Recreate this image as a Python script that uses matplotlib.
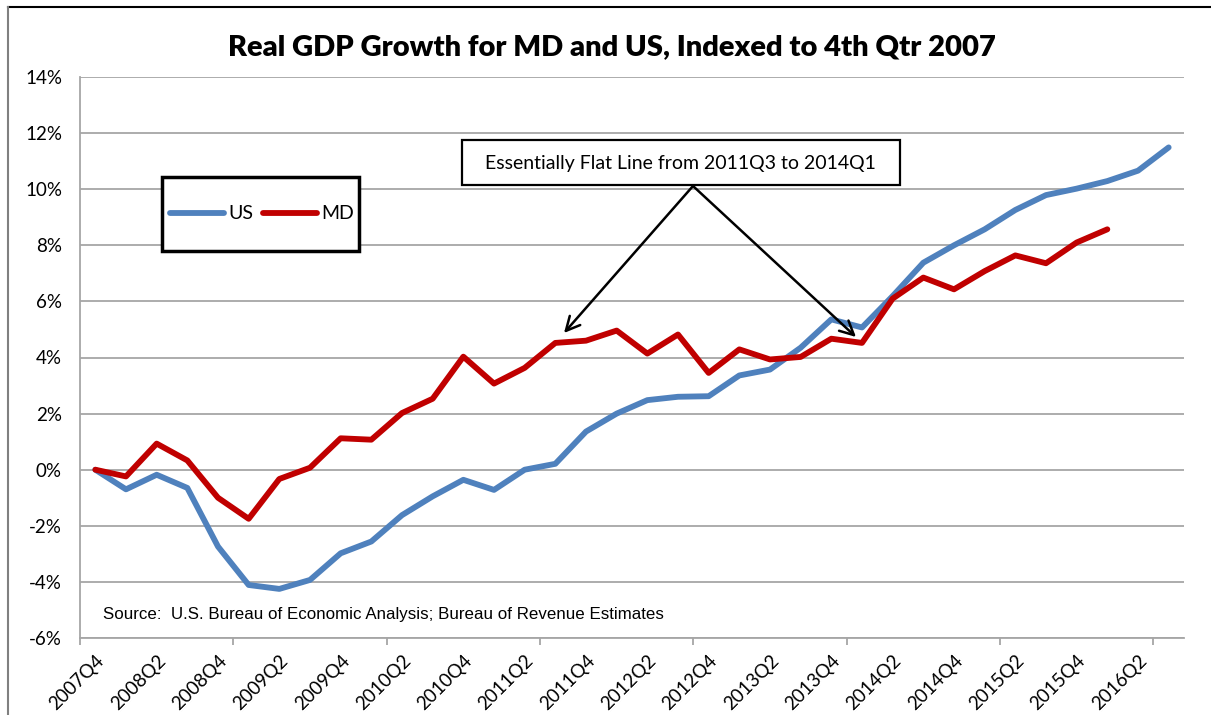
import matplotlib
matplotlib.use("Agg")
import matplotlib.pyplot as plt
from matplotlib.lines import Line2D
from matplotlib.patches import Rectangle

quarters = ["2007Q4",
            "2008Q1", "2008Q2", "2008Q3", "2008Q4",
            "2009Q1", "2009Q2", "2009Q3", "2009Q4",
            "2010Q1", "2010Q2", "2010Q3", "2010Q4",
            "2011Q1", "2011Q2", "2011Q3", "2011Q4",
            "2012Q1", "2012Q2", "2012Q3", "2012Q4",
            "2013Q1", "2013Q2", "2013Q3", "2013Q4",
            "2014Q1", "2014Q2", "2014Q3", "2014Q4",
            "2015Q1", "2015Q2", "2015Q3", "2015Q4",
            "2016Q1", "2016Q2", "2016Q3"]

us = [0.0, -0.70, -0.18, -0.65, -2.74, -4.11, -4.25, -3.93, -2.98, -2.56,
      -1.62, -0.95, -0.36, -0.72, 0.0, 0.21, 1.36, 2.0, 2.48, 2.60,
      2.62, 3.36, 3.57, 4.35, 5.36, 5.07, 6.19, 7.38, 8.0, 8.57,
      9.26, 9.79, 10.02, 10.29, 10.66, 11.49]

md = [0.0, -0.24, 0.93, 0.33, -1.0, -1.75, -0.33, 0.07, 1.12, 1.07,
      2.02, 2.53, 4.03, 3.07, 3.63, 4.52, 4.6, 4.96, 4.14, 4.82,
      3.45, 4.29, 3.93, 4.02, 4.67, 4.52, 6.1, 6.85, 6.43, 7.08,
      7.64, 7.36, 8.1, 8.57]

yticks = [-6, -4, -2, 0, 2, 4, 6, 8, 10, 12, 14]
title = "Real GDP Growth for MD and US, Indexed to 4th Qtr 2007"
note = "Essentially Flat Line from 2011Q3 to 2014Q1"
source = "Source:  U.S. Bureau of Economic Analysis; Bureau of Revenue Estimates"

BLUE = "#4F81BD"
RED = "#C00000"
GRID = "#A6A6A6"
CAL = ["Lato", "DejaVu Sans"]

W, H = 1211, 715
fig = plt.figure(figsize=(W / 100, H / 100), dpi=100)
fig.patch.set_facecolor("white")

def fx(px):
    return px / W

def fy(py):
    return 1 - py / H

ax = fig.add_axes([fx(80), fy(638), fx(1184) - fx(80), fy(77) - fy(638)])

x_us = list(range(len(us)))
x_md = list(range(len(md)))
ax.plot(x_us, us, color=BLUE, lw=4.2, solid_capstyle="round", solid_joinstyle="round", label="US", zorder=3)
ax.plot(x_md, md, color=RED, lw=4.2, solid_capstyle="round", solid_joinstyle="round", label="MD", zorder=3)

ax.set_xlim(-0.5, len(quarters) - 0.5)
ax.set_ylim(-6, 14)
ax.set_yticks(yticks)
ax.set_yticklabels([f"{v}%" for v in yticks], fontfamily=CAL, fontsize=13.5)
ax.tick_params(axis="y", length=0, pad=13)
ax.yaxis.grid(True, color=GRID, lw=1.3)
ax.set_axisbelow(True)

label_idx = list(range(0, len(quarters), 2))
ax.set_xticks(label_idx)
ax.set_xticklabels([quarters[i] for i in label_idx], rotation=45, ha="right",
                   va="top", rotation_mode="anchor", fontfamily=CAL, fontsize=13.5)
ax.tick_params(axis="x", which="major", length=0, pad=10)
ax.set_xticks([i - 0.5 for i in range(0, len(quarters), 5)], minor=True)
ax.tick_params(axis="x", which="minor", length=5, width=1.3, color=GRID, direction="out")

for s in ["top", "right"]:
    ax.spines[s].set_visible(False)
for s in ["left", "bottom"]:
    ax.spines[s].set_color(GRID)
    ax.spines[s].set_linewidth(1.3)

# title
fig.text(fx(612), fy(47), title, ha="center", va="center", fontfamily=CAL,
         fontweight="heavy", fontsize=21)

# source
ax.text(fx(103), fy(615), source, transform=fig.transFigure, ha="left", va="center",
        fontfamily=["Liberation Sans", "DejaVu Sans"], fontsize=12.2)

# annotation box and arrows
fig.patches.append(Rectangle((fx(462), fy(185)), fx(900) - fx(462), fy(140) - fy(185),
                             transform=fig.transFigure, facecolor="white",
                             edgecolor="black", lw=1.6, zorder=5))
fig.text(fx(680), fy(163), note, ha="center", va="center", fontfamily=CAL,
         fontsize=14, zorder=6)
for tip in [(564, 333), (856, 337)]:
    ax.annotate("", xy=(fx(tip[0]), fy(tip[1])), xycoords="figure fraction",
                xytext=(fx(693), fy(186)), textcoords="figure fraction",
                arrowprops=dict(arrowstyle="->,head_length=1.0,head_width=0.5",
                                color="black", lw=1.8, shrinkA=0, shrinkB=0),
                zorder=6)

# legend box
fig.patches.append(Rectangle((fx(162), fy(251)), fx(359) - fx(162), fy(177) - fy(251),
                             transform=fig.transFigure, facecolor="white",
                             edgecolor="black", lw=2.5, zorder=5))
handles = [Line2D([], [], color=BLUE, lw=4.2, solid_capstyle="round"),
           Line2D([], [], color=RED, lw=4.2, solid_capstyle="round")]
leg = fig.legend(handles, ["US", "MD"], loc="center",
                 bbox_to_anchor=(fx(262), fy(214)), ncol=2, frameon=False,
                 prop={"family": CAL, "size": 14}, handlelength=2.8,
                 handletextpad=0.2, columnspacing=0.5)
leg.set_zorder(7)

# outer chart border (top and left visible)
fig.add_artist(Line2D([fx(8), 1], [fy(7), fy(7)], color="black", lw=1.5, transform=fig.transFigure))
fig.add_artist(Line2D([fx(8), fx(8)], [fy(7), 0], color="#808080", lw=1.5, transform=fig.transFigure))

fig.savefig("out.png", dpi=100, facecolor="white")
